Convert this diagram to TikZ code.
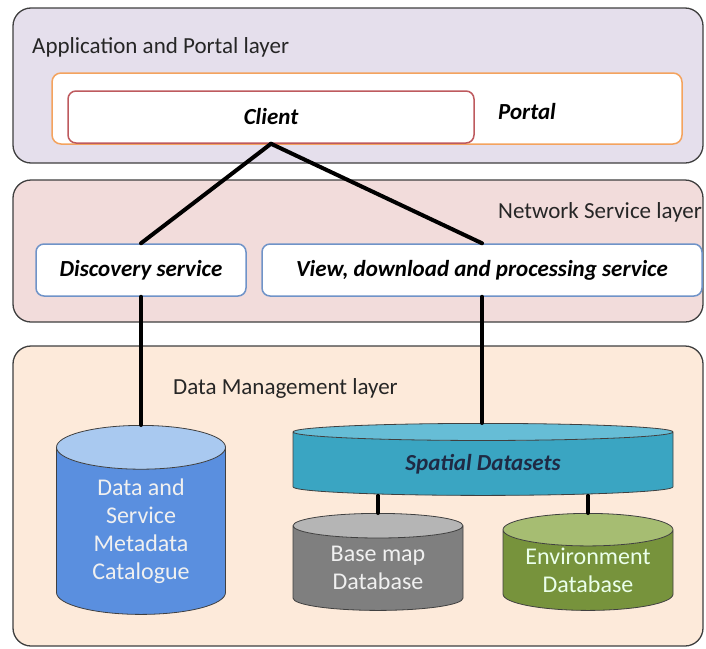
\documentclass[tikz,border=0pt]{standalone}
\usepackage{fontspec}
\setmainfont{Carlito}
\usetikzlibrary{shapes.geometric}
\definecolor{appfill}{HTML}{E5DFEC}
\definecolor{netfill}{HTML}{F2DCDB}
\definecolor{datafill}{HTML}{FDEADA}
\definecolor{layerline}{HTML}{3F3F3F}
\definecolor{portalline}{HTML}{F4A35E}
\definecolor{clientline}{HTML}{BE5A5E}
\definecolor{svcline}{HTML}{6F93C8}
\definecolor{metabody}{HTML}{5A8FDF}
\definecolor{metaend}{HTML}{A9C9F0}
\definecolor{spatbody}{HTML}{3AA5C2}
\definecolor{spatend}{HTML}{66BDD6}
\definecolor{basebody}{HTML}{7F7F7F}
\definecolor{baseend}{HTML}{B5B5B5}
\definecolor{envbody}{HTML}{77933C}
\definecolor{envend}{HTML}{A6BD72}
\definecolor{titletext}{HTML}{262626}
\definecolor{spattext}{HTML}{1F2A44}
\tikzset{
  layer/.style={draw=layerline, line width=1.3pt, rounded corners=18pt},
  layertitle/.style={text=titletext, font=\fontsize{23}{28}\selectfont, inner sep=0pt},
  svcbox/.style={draw=svcline, line width=1.5pt, fill=white, rounded corners=8pt,
    minimum height=52pt, inner sep=0pt, font=\fontsize{23}{28}\selectfont\bfseries\itshape},
  link/.style={line width=4pt, line cap=round},
  db/.style={cylinder, shape border rotate=90, draw=black!75, line width=0.8pt,
    cylinder uses custom fill, inner sep=0pt, align=center, anchor=north,
    font=\fontsize{24}{28}\selectfont}
}
\begin{document}
\begin{tikzpicture}[x=1pt, y=-1pt]
\useasboundingbox (0,0) rectangle (706,648);
% layers
\draw[layer, fill=appfill] (13,8) rectangle (703,163);
\draw[layer, fill=netfill] (13,180) rectangle (703,322);
\draw[layer, fill=datafill] (13,346) rectangle (703,646);
\node[layertitle, anchor=west] (apptitle) at (32,47) {Application and Portal layer};
\node[layertitle, anchor=east] (nettitle) at (702,212) {Network Service layer};
\node[layertitle, anchor=west] (datatitle) at (173,388) {Data Management layer};
% portal and client
\node[draw=portalline, line width=1.5pt, fill=white, rounded corners=9pt,
  minimum width=630pt, minimum height=71pt, inner sep=0pt] (portal) at (367,108.5) {};
\node[font=\fontsize{23}{28}\selectfont\bfseries\itshape] (portaltext) at (527,112) {Portal};
\node[draw=clientline, line width=1.5pt, fill=white, rounded corners=8pt,
  minimum width=406pt, minimum height=52pt, inner sep=0pt,
  font=\fontsize{23}{28}\selectfont\bfseries\itshape] (client) at (271,117) {Client};
% services
\node[svcbox, minimum width=210pt] (disc) at (141,270) {Discovery service};
\node[svcbox, minimum width=440pt] (view) at (482,270) {View, download and processing service};
% databases
\node[db, cylinder body fill=metabody, cylinder end fill=metaend, text=white!94!black,
  minimum width=169pt, minimum height=189pt, aspect=0.45] (meta) at (141,425)
  {Data and\\Service\\Metadata\\Catalogue};
\node[db, cylinder body fill=spatbody, cylinder end fill=spatend, text=spattext,
  font=\fontsize{23}{28}\selectfont\bfseries\itshape,
  minimum width=380pt, minimum height=72pt, aspect=0.11] (spatial) at (483,423)
  {Spatial Datasets};
\node[db, cylinder body fill=basebody, cylinder end fill=baseend, text=white!94!black,
  minimum width=170pt, minimum height=97pt, aspect=0.26] (basemap) at (378,513)
  {Base map\\Database};
\node[db, cylinder body fill=envbody, cylinder end fill=envend, text=green!8!white,
  minimum width=170pt, minimum height=97pt, aspect=0.26] (envdb) at (588,513)
  {Environment\\Database};
% links
\draw[link] (client.south) -- (disc.north);
\draw[link] (client.south) -- (view.north);
\draw[link] (disc.south) -- (meta.north);
\draw[link] (view.south) -- (spatial.north -| view.south);
\draw[link] (spatial.south -| basemap.north) -- (basemap.north);
\draw[link] (spatial.south -| envdb.north) -- (envdb.north);
\end{tikzpicture}
\end{document}
